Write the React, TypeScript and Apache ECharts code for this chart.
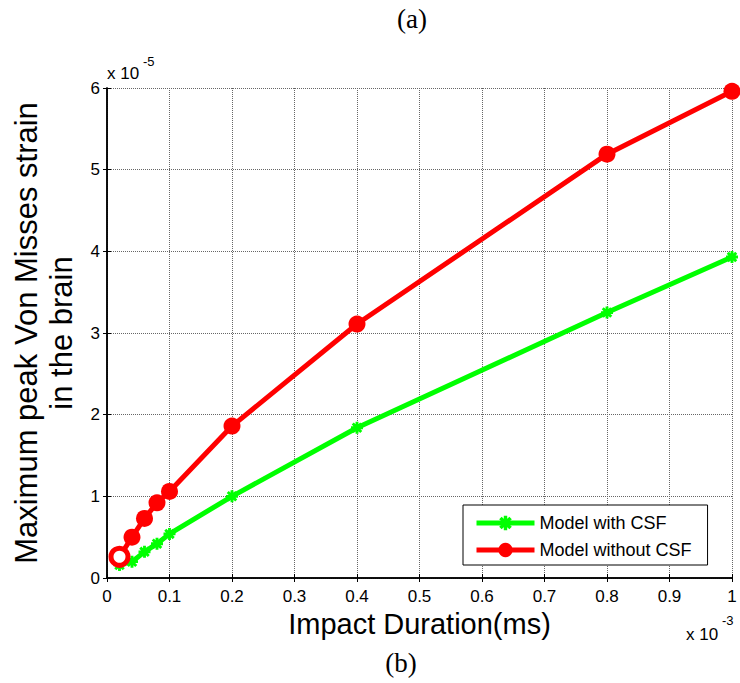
import React, { useEffect, useRef } from "react";
import * as echarts from "echarts";

// Impact duration (axis shows values × 10^-3)
const durations = [0.02, 0.04, 0.06, 0.08, 0.1, 0.2, 0.4, 0.8, 1.0];
// Maximum peak Von Misses strain (axis shows values × 10^-5)
const strainWithCSF = [0.16, 0.2, 0.32, 0.42, 0.54, 1.0, 1.84, 3.25, 3.93];
const strainWithoutCSF = [0.26, 0.5, 0.73, 0.92, 1.06, 1.86, 3.11, 5.19, 5.96];

const seriesNames = ["Model with CSF", "Model without CSF"];
const xTitle = "Impact Duration(ms)";
const yTitle = "Maximum peak Von Misses strain\nin the brain";

const FONT = "'Liberation Sans', Arial, sans-serif";
const SERIF = "'Liberation Serif', 'Times New Roman', serif";

const asteriskPath =
  "path://M-1.2,-5 L1.2,-5 L1.2,5 L-1.2,5 Z M-5,-1.2 L5,-1.2 L5,1.2 L-5,1.2 Z M-4.38,-2.68 L-2.68,-4.38 L4.38,2.68 L2.68,4.38 Z M-2.68,4.38 L-4.38,2.68 L2.68,-4.38 L4.38,-2.68 Z";

function txt(text: string, x: number, y: number, size: number, family: string, align = "left") {
  return {
    type: "text",
    x,
    y,
    style: {
      text,
      fontSize: size,
      fontFamily: family,
      fill: "#000",
      textAlign: align,
      textVerticalAlign: "middle",
    },
  };
}

export default function App() {
  const ref = useRef<HTMLDivElement>(null);

  useEffect(() => {
    if (!ref.current) return;
    const chart = echarts.init(ref.current, null, { renderer: "svg" });

    const greenData = durations.map((d, i) => [d, strainWithCSF[i]]);
    const redData = durations.map((d, i) =>
      i === 0
        ? {
            value: [d, strainWithoutCSF[i]],
            itemStyle: { color: "#ffffff", borderColor: "#ff0000", borderWidth: 5 },
          }
        : [d, strainWithoutCSF[i]]
    );

    const axisLineStyle = { show: true, lineStyle: { color: "#000", width: 1.5 } };
    const tick = { show: true, inside: true, length: 4, lineStyle: { color: "#000" } };
    const grid = { show: true, lineStyle: { color: "#666", type: [1, 1], width: 1 } };

    chart.setOption({
      animation: false,
      backgroundColor: "#ffffff",
      textStyle: { fontFamily: FONT },
      grid: { left: 107, right: 8, top: 88, bottom: 105, containLabel: false },
      legend: {
        orient: "vertical",
        left: 463,
        top: 505,
        padding: [9, 16, 6, 11],
        itemGap: 9,
        itemWidth: 58,
        itemHeight: 18,
        backgroundColor: "#ffffff",
        borderColor: "#000",
        borderWidth: 1,
        borderRadius: 0,
        lineStyle: { width: 5 },
        textStyle: { fontSize: 18, color: "#000", fontFamily: FONT },
        data: seriesNames,
      },
      xAxis: [
        {
          type: "value",
          min: 0,
          max: 1,
          interval: 0.1,
          position: "bottom",
          axisLine: axisLineStyle,
          axisTick: tick,
          axisLabel: { fontSize: 17, color: "#000", margin: 10, fontFamily: FONT },
          splitLine: grid,
          name: xTitle,
          nameLocation: "middle",
          nameGap: 31,
          nameTextStyle: { fontSize: 29, color: "#000", fontFamily: FONT },
        },
        {
          type: "value",
          min: 0,
          max: 1,
          interval: 0.1,
          position: "top",
          axisLine: axisLineStyle,
          axisTick: tick,
          axisLabel: { show: false },
          splitLine: { show: false },
        },
      ],
      yAxis: [
        {
          type: "value",
          min: 0,
          max: 6,
          interval: 1,
          position: "left",
          axisLine: axisLineStyle,
          axisTick: tick,
          axisLabel: { fontSize: 17, color: "#000", margin: 7, fontFamily: FONT },
          splitLine: grid,
          name: yTitle,
          nameLocation: "middle",
          nameRotate: 90,
          nameGap: 28,
          nameTextStyle: { fontSize: 31, lineHeight: 35, color: "#000", fontFamily: FONT },
        },
        {
          type: "value",
          min: 0,
          max: 6,
          interval: 1,
          position: "right",
          axisLine: axisLineStyle,
          axisTick: tick,
          axisLabel: { show: false },
          splitLine: { show: false },
        },
      ],
      series: [
        {
          name: seriesNames[0],
          type: "line",
          data: greenData,
          symbol: asteriskPath,
          symbolSize: 12,
          lineStyle: { color: "#00ff00", width: 5 },
          itemStyle: { color: "#00ff00" },
          z: 3,
        },
        {
          name: seriesNames[1],
          type: "line",
          data: redData,
          symbol: "circle",
          symbolSize: 17,
          lineStyle: { color: "#ff0000", width: 5 },
          itemStyle: { color: "#ff0000" },
          z: 4,
        },
      ],
      graphic: [
        txt("(a)", 412, 19, 27, SERIF, "center"),
        txt("(b)", 401, 663, 27, SERIF, "center"),
        txt("x 10", 107, 73, 17, FONT),
        txt("-5", 143, 61, 13, FONT),
        txt("x 10", 686, 634, 17, FONT),
        txt("-3", 722, 620, 13, FONT),
      ],
    });

    return () => chart.dispose();
  }, []);

  return (
    <div
      ref={ref}
      style={{ position: "absolute", left: 0, top: 0, width: 740, height: 683 }}
    />
  );
}
